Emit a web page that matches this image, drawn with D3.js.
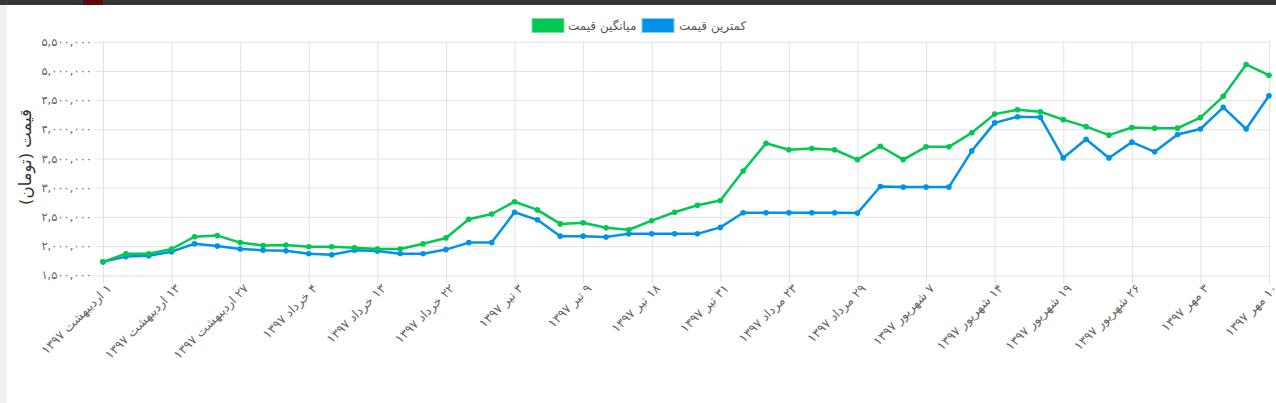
<!DOCTYPE html>
<html>
<head>
<meta charset="utf-8">
<script src="https://cdn.jsdelivr.net/npm/d3@7"></script>
<style>
  body { margin: 0; background: #fff; overflow: hidden; }
  text { font-family: "DejaVu Sans", sans-serif; }
</style>
</head>
<body>
<div id="chart"></div>
<script>
// برچسب‌های محور افقی (هر سه نقطه یک برچسب)
const tickLabels = [
  "۱ اردیبهشت ۱۳۹۷", "۱۳ اردیبهشت ۱۳۹۷", "۲۷ اردیبهشت ۱۳۹۷", "۴ خرداد ۱۳۹۷",
  "۱۳ خرداد ۱۳۹۷", "۲۲ خرداد ۱۳۹۷", "۳ تیر ۱۳۹۷", "۹ تیر ۱۳۹۷", "۱۸ تیر ۱۳۹۷",
  "۳۱ تیر ۱۳۹۷", "۲۳ مرداد ۱۳۹۷", "۲۹ مرداد ۱۳۹۷", "۷ شهریور ۱۳۹۷",
  "۱۴ شهریور ۱۳۹۷", "۱۹ شهریور ۱۳۹۷", "۲۶ شهریور ۱۳۹۷", "۳ مهر ۱۳۹۷", "۱۰ مهر ۱۳۹۷"
];

const avgPrice = [
  1730000, 1870000, 1870000, 1950000, 2160000, 2180000, 2060000, 2010000, 2020000,
  1990000, 1990000, 1970000, 1950000, 1950000, 2040000, 2140000, 2460000, 2550000,
  2760000, 2620000, 2380000, 2400000, 2315000, 2280000, 2435000, 2580000, 2700000,
  2780000, 3285000, 3760000, 3650000, 3670000, 3650000, 3480000, 3710000, 3480000,
  3700000, 3700000, 3940000, 4260000, 4335000, 4300000, 4165000, 4045000, 3900000,
  4030000, 4020000, 4020000, 4200000, 4565000, 5110000, 4925000
];

const minPrice = [
  1730000, 1820000, 1835000, 1905000, 2040000, 2000000, 1950000, 1930000, 1920000,
  1870000, 1853000, 1930000, 1915000, 1870000, 1870000, 1940000, 2060000, 2060000,
  2580000, 2450000, 2170000, 2170000, 2155000, 2210000, 2210000, 2210000, 2210000,
  2320000, 2570000, 2570000, 2570000, 2570000, 2570000, 2565000, 3020000, 3010000,
  3010000, 3010000, 3630000, 4110000, 4215000, 4205000, 3510000, 3830000, 3510000,
  3780000, 3615000, 3910000, 4005000, 4375000, 4005000, 4575000
];

const yTicks = [1500000, 2000000, 2500000, 3000000, 3500000, 4000000, 4500000, 5000000, 5500000];

const series = [
  { name: "کمترین قیمت", values: minPrice, color: "#0091ea", border: "#8cc9f3" },
  { name: "میانگین قیمت", values: avgPrice, color: "#00c853", border: "#7fdca6" }
];

const w = 1276, h = 403;
const m = { left: 103, right: 1269, top: 41.7, bottom: 275.3 };

const toFa = s => s.replace(/\d/g, d => "۰۱۲۳۴۵۶۷۸۹"[d]);

const svg = d3.select("#chart").append("svg")
  .attr("width", w).attr("height", h);

// نوار بالای صفحه و حاشیه چپ
svg.append("rect").attr("x", 0).attr("y", 0).attr("width", w).attr("height", 5).attr("fill", "#363636");
svg.append("rect").attr("x", 83).attr("y", 0).attr("width", 20).attr("height", 5).attr("fill", "#5a0c0c");
svg.append("rect").attr("x", 0).attr("y", 5).attr("width", 7).attr("height", h - 5).attr("fill", "#f1f1f1");

const x = d3.scaleLinear().domain([0, avgPrice.length - 1]).range([m.left, m.right]);
const y = d3.scaleLinear().domain([1500000, 5500000]).range([m.bottom, m.top]);

// خطوط شبکه
svg.append("g")
  .attr("transform", `translate(0, ${m.bottom})`)
  .call(d3.axisBottom(x)
    .tickValues(d3.range(0, avgPrice.length, 3))
    .tickSize(-(m.bottom - m.top))
    .tickFormat(""))
  .call(g => g.select(".domain").remove())
  .call(g => g.selectAll("line").attr("stroke", "#e2e2e2").attr("y1", 8));

svg.append("g")
  .attr("transform", `translate(${m.left}, 0)`)
  .call(d3.axisLeft(y)
    .tickValues(yTicks)
    .tickSize(-(m.right - m.left))
    .tickFormat(""))
  .call(g => g.select(".domain").remove())
  .call(g => g.selectAll("line").attr("stroke", "#e2e2e2").attr("x1", -8));

// برچسب‌های محور عمودی
svg.append("g").selectAll("text")
  .data(yTicks)
  .enter().append("text")
  .attr("x", 92)
  .attr("y", d => y(d))
  .attr("dy", "0.35em")
  .attr("text-anchor", "end")
  .attr("fill", "#666")
  .style("font-size", "11.5px")
  .text(d => toFa(d3.format(",")(d)));

// برچسب‌های محور افقی (چرخش ۴۵ درجه)
svg.append("g").selectAll("text")
  .data(tickLabels)
  .enter().append("text")
  .attr("direction", "rtl")
  .attr("text-anchor", "middle")
  .attr("fill", "#666")
  .style("font-size", "12.5px")
  .text(d => d)
  .each(function (d, i) {
    const len = this.getComputedTextLength();
    d3.select(this)
      .attr("x", -len / 2)
      .attr("dy", "0.7em")
      .attr("transform", `translate(${x(i * 3) + 3}, 283) rotate(-45)`);
  });

// عنوان محور عمودی
svg.append("text")
  .attr("transform", `translate(31, 157) rotate(-90)`)
  .attr("direction", "rtl")
  .attr("text-anchor", "middle")
  .attr("fill", "#333")
  .style("font-size", "16.5px")
  .text("قیمت (تومان)");

// خطوط و نقاط
const line = d3.line().x((d, i) => x(i)).y(d => y(d));

series.forEach(s => {
  svg.append("path")
    .datum(s.values)
    .attr("fill", "none")
    .attr("stroke", s.color)
    .attr("stroke-width", 2.5)
    .attr("stroke-linejoin", "round")
    .attr("d", line);

  svg.append("g").selectAll("circle")
    .data(s.values)
    .enter().append("circle")
    .attr("cx", (d, i) => x(i))
    .attr("cy", d => y(d))
    .attr("r", 2.8)
    .attr("fill", s.color);
});

// راهنما
const legendItems = [
  { s: series[1], bx: 532, tx: 568 },
  { s: series[0], bx: 642, tx: 679 }
];
const legend = svg.append("g");
legendItems.forEach(it => {
  legend.append("rect")
    .attr("x", it.bx).attr("y", 18.5)
    .attr("width", 32).attr("height", 14)
    .attr("fill", it.s.color)
    .attr("stroke", it.s.border);
  legend.append("text")
    .attr("direction", "rtl")
    .attr("text-anchor", "middle")
    .attr("fill", "#555")
    .style("font-size", "12px")
    .text(it.s.name)
    .each(function () {
      const len = this.getComputedTextLength();
      d3.select(this).attr("x", it.tx + len / 2).attr("y", 30);
    });
});
</script>
</body>
</html>
